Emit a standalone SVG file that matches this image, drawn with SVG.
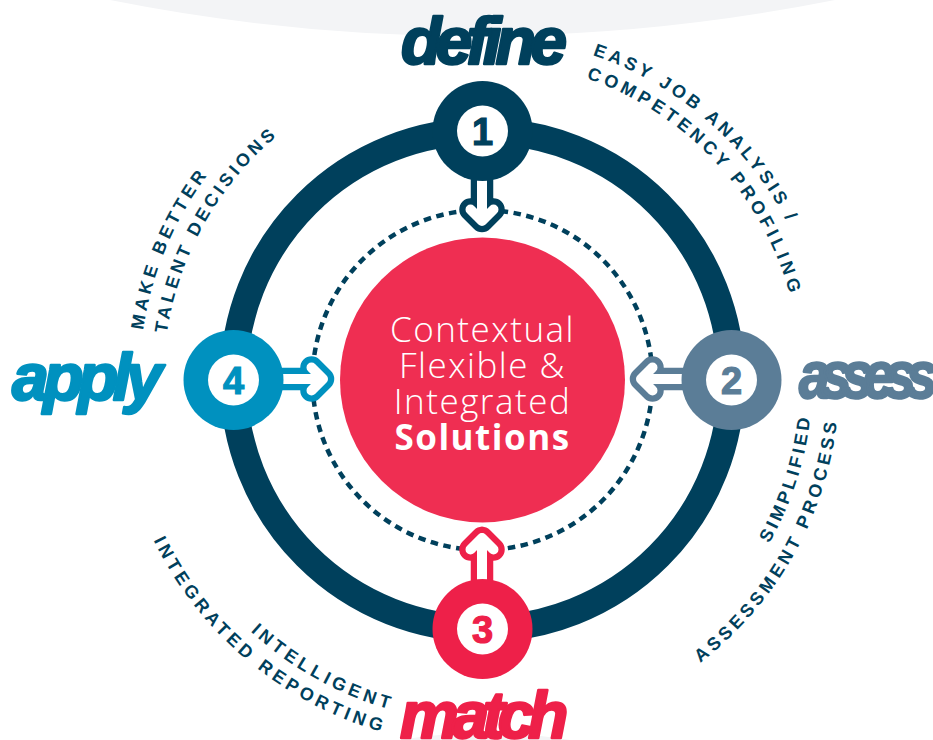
<svg xmlns="http://www.w3.org/2000/svg" width="933" height="740" viewBox="0 0 933 740">
<style>
.cap{font-family:"Liberation Sans",Arial,sans-serif;font-weight:700;font-size:18px;fill:#00405c}
.logo{font-family:"Liberation Sans",Arial,sans-serif;font-weight:700;font-style:italic;font-size:66px;stroke-width:2.5px;stroke-linejoin:round}
.num{font-family:"Liberation Sans",Arial,sans-serif;font-weight:700;font-size:38px;text-anchor:middle;stroke-width:1.2px}
.mid{font-family:"Open Sans",sans-serif;font-weight:300;font-size:35px;letter-spacing:1.5px;fill:#fff;text-anchor:middle}
.arrow{fill:none;stroke-linecap:round;stroke-linejoin:round}
</style>
<defs>
<path id="t1" d="M592.5,55.1A343,343 0 0 1 820.3,320.4"/>
<path id="t2" d="M586.4,78.4A319,319 0 0 1 796.6,435.4"/>
<path id="t3" d="M700.3,662.8A357,357 0 0 0 818,258"/>
<path id="t4" d="M769.1,543.5A330,330 0 0 0 768.3,215"/>
<path id="t5" d="M153.5,540.4A366,366 0 0 0 546,740.400"/>
<path id="t6" d="M250.600,631.4A342,342 0 0 0 541.900,716.800"/>
<path id="t7" d="M143.100,330.200A343,343 0 0 1 311,83"/>
<path id="t8" d="M166.900,333.400A319,319 0 0 1 373.400,80.200"/>
</defs>
<path d="M110,0Q472,72 835,0Z" fill="#f3f4f6"/>
<path d="M400,740Q482,726 570,740Z" fill="#f3f4f6"/>
<circle cx="482.5" cy="380" r="249" fill="none" stroke="#00405c" stroke-width="27"/>
<circle cx="482.5" cy="380" r="170" fill="none" stroke="#00405c" stroke-width="4.5" stroke-dasharray="7.5 5.5"/>
<g id="centre">
<circle cx="482.5" cy="380" r="142.5" fill="#ef2e52"/>
<text class="mid" x="482.5" y="342">Contextual</text>
<text class="mid" x="482.5" y="378">Flexible &amp;</text>
<text class="mid" x="482.5" y="414">Integrated</text>
<text class="mid" x="482.5" y="450" style="font-weight:700">Solutions</text>
</g>
<g id="connectors">
<g class="arrow" stroke="#00405c">
<path stroke-width="22.5" d="M482,170V221M470.5,209.5L482,221L493.500,209.5"/>
<path stroke="#fff" stroke-width="10" d="M482,170V221M470.5,209.5L482,221L493.500,209.5"/>
</g>
<g class="arrow" stroke="#5b7d97">
<path stroke-width="22.5" d="M695,379H641M652.5,367.500L641,379L652.500,390.500"/>
<path stroke="#fff" stroke-width="10" d="M695,379H641M652.5,367.500L641,379L652.500,390.500"/>
</g>
<g class="arrow" stroke="#ee2049">
<path stroke-width="22.5" d="M482,590V538M470.500,549.500L482,538L493.500,549.500"/>
<path stroke="#fff" stroke-width="10" d="M482,590V538M470.500,549.500L482,538L493.500,549.500"/>
</g>
<g class="arrow" stroke="#0091bf">
<path stroke-width="22.5" d="M270,379H323M311.500,367.500L323,379L311.500,390.500"/>
<path stroke="#fff" stroke-width="10" d="M270,379H323M311.500,367.500L323,379L311.500,390.500"/>
</g>
</g>
<g id="node-define">
<circle cx="482.5" cy="131" r="50" fill="#00405c"/><circle cx="482.5" cy="131" r="25.500" fill="#fff"/>
<text class="num" x="482.5" y="145" fill="#00405c" stroke="#00405c">1</text>
<text class="logo" x="401" y="64" fill="#00405c" stroke="#00405c" letter-spacing="-5.700">define</text>
<text class="cap" letter-spacing="3.720"><textPath href="#t1">EASY JOB ANALYSIS /</textPath></text>
<text class="cap" letter-spacing="4.080"><textPath href="#t2">COMPETENCY PROFILING</textPath></text>
</g>
<g id="node-assess">
<circle cx="731.5" cy="380" r="50" fill="#5b7d97"/><circle cx="731.5" cy="380" r="25.500" fill="#fff"/>
<text class="num" x="731.5" y="394" fill="#5b7d97" stroke="#5b7d97">2</text>
<text class="logo" transform="translate(799,398) scale(.85,1)" fill="#5b7d97" stroke="#5b7d97" letter-spacing="-11.500">assess</text>
<text class="cap" letter-spacing="3.900"><textPath href="#t3">ASSESSMENT PROCESS</textPath></text>
<text class="cap" letter-spacing="3.500"><textPath href="#t4">SIMPLIFIED</textPath></text>
</g>
<g id="node-match">
<circle cx="482.5" cy="629" r="50" fill="#ee2049"/><circle cx="482.5" cy="629" r="25.500" fill="#fff"/>
<text class="num" x="482.5" y="643" fill="#ee2049" stroke="#ee2049">3</text>
<text class="logo" x="400" y="738" fill="#ee2049" stroke="#ee2049" letter-spacing="-6.500">match</text>
<text class="cap" letter-spacing="4.100"><textPath href="#t5">INTEGRATED REPORTING</textPath></text>
<text class="cap" letter-spacing="4.160"><textPath href="#t6">INTELLIGENT</textPath></text>
</g>
<g id="node-apply">
<circle cx="233.500" cy="380" r="50" fill="#0091bf"/><circle cx="233.500" cy="380" r="25.500" fill="#fff"/>
<text class="num" x="233.500" y="394" fill="#0091bf" stroke="#0091bf">4</text>
<text class="logo" x="12" y="400" fill="#0091bf" stroke="#0091bf" letter-spacing="-5.500">apply</text>
<text class="cap" letter-spacing="3.840"><textPath href="#t7">MAKE BETTER</textPath></text>
<text class="cap" letter-spacing="3.730"><textPath href="#t8">TALENT DECISIONS</textPath></text>
</g>
</svg>
